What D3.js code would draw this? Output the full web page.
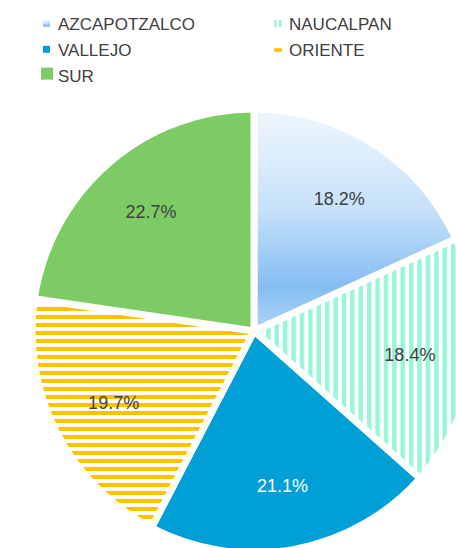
<!DOCTYPE html>
<html>
<head>
<meta charset="utf-8">
<script src="https://cdn.jsdelivr.net/npm/d3@7"></script>
<style>
  body { margin: 0; background: #fff; }
  svg { display: block; font-family: "Liberation Sans", Arial, sans-serif; }
</style>
</head>
<body>
<svg id="chart" width="456" height="548"></svg>
<script>
// data
const categories = ["AZCAPOTZALCO", "NAUCALPAN", "VALLEJO", "ORIENTE", "SUR"];
const shares = [18.2, 18.4, 21.1, 19.7, 22.7];
const legendRows = [["AZCAPOTZALCO", "NAUCALPAN"], ["VALLEJO", "ORIENTE"], ["SUR"]];

const W = 456, H = 548;
const cx = 254, cy = 331, radius = 222;

const svg = d3.select("#chart");
const defs = svg.append("defs");

// light blue gradient fill
const grad = defs.append("linearGradient")
  .attr("id", "fill-azc")
  .attr("x1", 0).attr("y1", 0).attr("x2", 0).attr("y2", 1);
grad.append("stop").attr("offset", "0%").attr("stop-color", "#eff7fe");
grad.append("stop").attr("offset", "45%").attr("stop-color", "#c7e1f9");
grad.append("stop").attr("offset", "80%").attr("stop-color", "#84bdf3");
grad.append("stop").attr("offset", "100%").attr("stop-color", "#b0d4f7");

// vertical stripes
const vp = defs.append("pattern")
  .attr("id", "fill-nau")
  .attr("patternUnits", "userSpaceOnUse")
  .attr("x", 3.7).attr("y", 0)
  .attr("width", 8.4).attr("height", 8);
vp.append("rect").attr("width", 8.4).attr("height", 8).attr("fill", "#fff");
vp.append("rect").attr("width", 4.5).attr("height", 8).attr("fill", "#98f5da");

// horizontal stripes
const hp = defs.append("pattern")
  .attr("id", "fill-ori")
  .attr("patternUnits", "userSpaceOnUse")
  .attr("x", 0).attr("y", 0)
  .attr("width", 8).attr("height", 8);
hp.append("rect").attr("width", 8).attr("height", 8).attr("fill", "#fff");
hp.append("rect").attr("width", 8).attr("height", 4).attr("fill", "#ffc000");

const color = d3.scaleOrdinal()
  .domain(categories)
  .range(["url(#fill-azc)", "url(#fill-nau)", "#00a0d6", "url(#fill-ori)", "#7dcb64"]);

const labelColor = d3.scaleOrdinal()
  .domain(categories)
  .range(["#404040", "#404040", "#ffffff", "#404040", "#404040"]);

const pie = d3.pie().sort(null).value(d => d.value);
const arcs = pie(categories.map((c, i) => ({ name: c, value: shares[i] })));

const arc = d3.arc().innerRadius(0).outerRadius(radius);
const labelArc = d3.arc().innerRadius(radius * 0.71).outerRadius(radius * 0.71);

const g = svg.append("g").attr("transform", `translate(${cx},${cy})`);

g.selectAll("path.slice")
  .data(arcs)
  .enter()
  .append("path")
  .attr("class", "slice")
  .attr("d", arc)
  .attr("fill", d => color(d.data.name))
  .attr("stroke", "#fff")
  .attr("stroke-width", 7)
  .attr("stroke-linejoin", "miter");

g.selectAll("text.pct")
  .data(arcs)
  .enter()
  .append("text")
  .attr("class", "pct")
  .attr("transform", d => `translate(${labelArc.centroid(d)})`)
  .attr("text-anchor", "middle")
  .attr("dy", "0.35em")
  .attr("font-size", 18)
  .attr("fill", d => labelColor(d.data.name))
  .text(d => d.data.value.toFixed(1) + "%");

// legend
const colX = [43, 274];
const legend = svg.append("g").attr("class", "legend");

legendRows.forEach((row, r) => {
  const base = 30 + r * 25.8;
  row.forEach((name, c) => {
    const x = colX[c];
    const item = legend.append("g");
    if (name === "NAUCALPAN") {
      item.append("rect").attr("x", x).attr("y", base - 10).attr("width", 2.5).attr("height", 7).attr("fill", "#98f5da");
      item.append("rect").attr("x", x + 5).attr("y", base - 10).attr("width", 2.5).attr("height", 7).attr("fill", "#98f5da");
    } else if (name === "ORIENTE") {
      item.append("rect").attr("x", x).attr("y", base - 7.5).attr("width", 8).attr("height", 3.5).attr("fill", "#ffc000");
    } else if (name === "SUR") {
      item.append("rect").attr("x", x - 2).attr("y", base - 14).attr("width", 12).attr("height", 12).attr("fill", color(name));
    } else {
      item.append("rect").attr("x", x).attr("y", base - 10).attr("width", 7).attr("height", 7).attr("fill", color(name));
    }
    item.append("text")
      .attr("x", x + 15)
      .attr("y", base)
      .attr("font-size", 17)
      .attr("fill", "#404040")
      .text(name);
  });
});
</script>
</body>
</html>
